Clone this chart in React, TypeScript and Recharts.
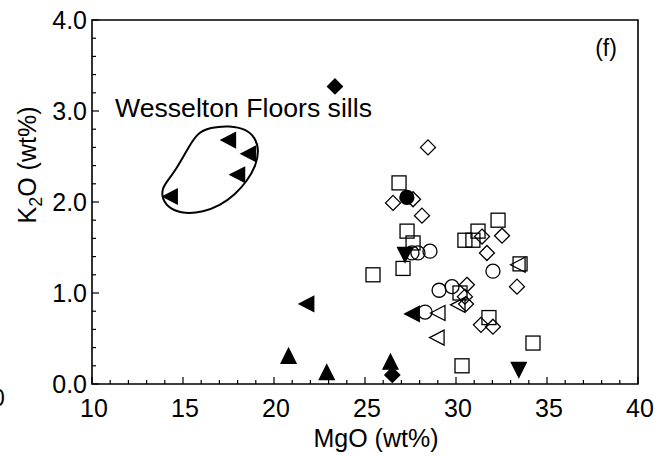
import React from 'react';
import { ScatterChart, Scatter, XAxis, YAxis, ReferenceArea, Customized } from 'recharts';

const FONT = '"Liberation Sans", Arial, Helvetica, sans-serif';

// Wesselton Floors sills (filled left triangles)
const sillMgO = [14.3, 17.5, 18.6, 18.0];
const sillK2O = [2.06, 2.68, 2.53, 2.3];
// other filled left triangles
const filledLeftMgO = [21.8, 27.6];
const filledLeftK2O = [0.88, 0.77];
// filled up triangles
const filledUpMgO = [20.8, 22.9, 26.4];
const filledUpK2O = [0.31, 0.13, 0.245];
// filled down triangles
const filledDownMgO = [33.45, 27.2];
const filledDownK2O = [0.155, 1.42];
// filled diamonds
const filledDiamondMgO = [23.35, 26.5];
const filledDiamondK2O = [3.27, 0.1];
// filled circle
const filledCircleMgO = [27.3];
const filledCircleK2O = [2.05];
// open squares
const openSquareMgO = [26.87, 27.31, 27.64, 30.49, 30.93, 31.21, 32.31, 25.44, 27.09, 33.52, 30.22, 31.81, 34.23, 30.33];
const openSquareK2O = [2.21, 1.68, 1.55, 1.58, 1.58, 1.68, 1.8, 1.2, 1.27, 1.32, 1.0, 0.73, 0.45, 0.2];
// open circles
const openCircleMgO = [27.58, 27.91, 28.57, 32.03, 29.07, 29.78, 28.3];
const openCircleK2O = [1.44, 1.44, 1.46, 1.24, 1.03, 1.07, 0.79];
// open diamonds
const openDiamondMgO = [28.46, 26.54, 27.64, 28.13, 32.53, 31.43, 31.7, 33.35, 30.6, 30.49, 31.37, 32.03, 30.55];
const openDiamondK2O = [2.6, 1.99, 2.03, 1.85, 1.63, 1.62, 1.44, 1.07, 1.09, 0.96, 0.65, 0.63, 0.88];
// open left triangles
const openLeftMgO = [29.01, 28.96, 30.11, 33.41];
const openLeftK2O = [0.78, 0.51, 0.87, 1.31];
// outline around the sills group
const outlineMgO = [15.77, 16.48, 17.58, 18.46, 18.96, 19.18, 19.01, 18.52, 17.86, 17.03, 16.1, 15.11, 14.29, 13.85, 13.85, 14.18, 14.62, 15.16];
const outlineK2O = [2.76, 2.82, 2.84, 2.8, 2.71, 2.57, 2.4, 2.23, 2.08, 1.96, 1.89, 1.87, 1.92, 2.03, 2.15, 2.24, 2.36, 2.55];

const xTicks = [10, 11, 12, 13, 14, 15, 16, 17, 18, 19, 20, 21, 22, 23, 24, 25, 26, 27, 28, 29, 30, 31, 32, 33, 34, 35, 36, 37, 38, 39, 40];
const yTicks = [0, 0.2, 0.4, 0.6, 0.8, 1.0, 1.2, 1.4, 1.6, 1.8, 2.0, 2.2, 2.4, 2.6, 2.8, 3.0, 3.2, 3.4, 3.6, 3.8, 4.0];

const zip = (xs: number[], ys: number[]) => xs.map((x, i) => ({ x, y: ys[i] }));

const SW = 1.3;
const mk = (kind: string, filled: boolean) => (props: any) => {
  const { cx, cy } = props;
  if (cx == null || cy == null) return <g />;
  const common = { fill: filled ? '#000' : 'none', stroke: '#000', strokeWidth: SW };
  switch (kind) {
    case 'square':
      return <rect x={cx - 7} y={cy - 7} width={14} height={14} {...common} />;
    case 'circle':
      return <circle cx={cx} cy={cy} r={7} {...common} />;
    case 'diamond':
      return <polygon points={`${cx},${cy - 7.5} ${cx + 7.5},${cy} ${cx},${cy + 7.5} ${cx - 7.5},${cy}`} {...common} />;
    case 'left':
      return <polygon points={`${cx - 7.5},${cy} ${cx + 7},${cy - 7.5} ${cx + 7},${cy + 7.5}`} {...common} />;
    case 'up':
      return <polygon points={`${cx},${cy - 7.5} ${cx + 7.5},${cy + 7.5} ${cx - 7.5},${cy + 7.5}`} {...common} />;
    case 'down':
      return <polygon points={`${cx},${cy + 7.5} ${cx + 7.5},${cy - 7.5} ${cx - 7.5},${cy - 7.5}`} {...common} />;
    default:
      return <g />;
  }
};

const XTick = (props: any) => {
  const { x, y, payload } = props;
  const v = payload.value;
  const major = Math.abs(v % 5) < 1e-6;
  return (
    <g>
      <line x1={x} x2={x} y1={y} y2={y - (major ? 7 : 4)} stroke="#000" strokeWidth={1.2} />
      {major && (
        <text x={x + 2} y={y + 33} textAnchor="middle" fontSize={25} fontFamily={FONT} fill="#000">
          {v}
        </text>
      )}
    </g>
  );
};

const YTick = (props: any) => {
  const { x, y, payload } = props;
  const v = payload.value;
  const major = Math.abs(v - Math.round(v)) < 1e-6;
  return (
    <g>
      <line x1={x} x2={x + (major ? 7 : 4)} y1={y} y2={y} stroke="#000" strokeWidth={1.2} />
      {major && (
        <text x={x - 5} y={y + 9} textAnchor="end" fontSize={25} fontFamily={FONT} fill="#000">
          {v.toFixed(1)}
        </text>
      )}
    </g>
  );
};

const Labels = () => (
  <g fontFamily={FONT} fill="#000">
    <text x={376} y={447} textAnchor="middle" fontSize={25}>MgO (wt%)</text>
    <text x={36} y={165} textAnchor="middle" fontSize={25} transform="rotate(-90, 36, 165)">
      K<tspan dy={6} fontSize={18}>2</tspan>
      <tspan dy={-6}>O (wt%)</tspan>
    </text>
    <text x={606} y={56} textAnchor="middle" fontSize={23}>(f)</text>
    <text x={115} y={117} fontSize={25} textLength={257} lengthAdjust="spacingAndGlyphs">
      Wesselton Floors sills
    </text>
    <text x={-8} y={406} fontSize={23}>0</text>
  </g>
);

const noShape = () => <g />;

export default function App() {
  return (
    <div style={{ position: 'absolute', left: 0, top: 0 }}>
      <ScatterChart width={657} height={456} margin={{ top: 20, right: 19, bottom: 0, left: 0 }}>
        <XAxis
          type="number"
          dataKey="x"
          domain={[10, 40]}
          ticks={xTicks}
          interval={0}
          tickSize={0}
          tickMargin={0}
          tickLine={false}
          axisLine={false}
          tick={<XTick />}
          height={72}
          allowDataOverflow
        />
        <YAxis
          type="number"
          dataKey="y"
          domain={[0, 4]}
          ticks={yTicks}
          interval={0}
          tickSize={0}
          tickMargin={0}
          tickLine={false}
          axisLine={false}
          tick={<YTick />}
          width={92}
          allowDataOverflow
        />
        <ReferenceArea x1={10} x2={40} y1={0} y2={4} fill="none" stroke="#000" strokeWidth={1.6} />
        <Scatter
          data={zip(outlineMgO, outlineK2O)}
          line={{ stroke: '#000', strokeWidth: 2 }}
          lineJointType="basisClosed"
          shape={noShape}
          isAnimationActive={false}
        />
        <Scatter data={zip(openSquareMgO, openSquareK2O)} shape={mk('square', false)} isAnimationActive={false} />
        <Scatter data={zip(openDiamondMgO, openDiamondK2O)} shape={mk('diamond', false)} isAnimationActive={false} />
        <Scatter data={zip(openCircleMgO, openCircleK2O)} shape={mk('circle', false)} isAnimationActive={false} />
        <Scatter data={zip(openLeftMgO, openLeftK2O)} shape={mk('left', false)} isAnimationActive={false} />
        <Scatter data={zip(sillMgO, sillK2O)} shape={mk('left', true)} isAnimationActive={false} />
        <Scatter data={zip(filledLeftMgO, filledLeftK2O)} shape={mk('left', true)} isAnimationActive={false} />
        <Scatter data={zip(filledUpMgO, filledUpK2O)} shape={mk('up', true)} isAnimationActive={false} />
        <Scatter data={zip(filledDownMgO, filledDownK2O)} shape={mk('down', true)} isAnimationActive={false} />
        <Scatter data={zip(filledDiamondMgO, filledDiamondK2O)} shape={mk('diamond', true)} isAnimationActive={false} />
        <Scatter data={zip(filledCircleMgO, filledCircleK2O)} shape={mk('circle', true)} isAnimationActive={false} />
        <Customized component={Labels} />
      </ScatterChart>
    </div>
  );
}
